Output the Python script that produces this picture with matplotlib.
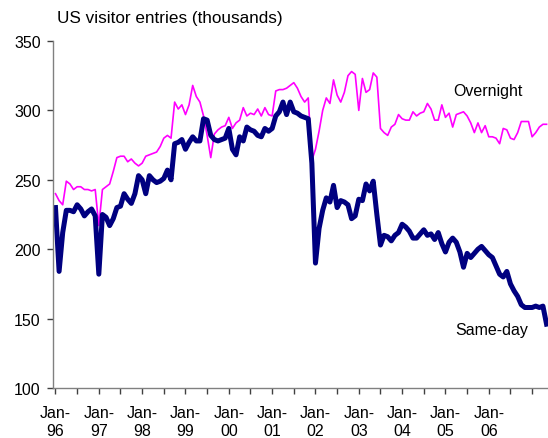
import matplotlib
matplotlib.use("Agg")
import matplotlib.pyplot as plt
import pandas as pd

# ----------------------------------------------------------------------------------------------------------------------
#  DATA  (monthly, Jan-96 onwards, thousands)
# ----------------------------------------------------------------------------------------------------------------------
same_day = [230, 184, 212, 228, 228, 227, 232, 229, 224, 227, 229, 224,
            182, 225, 223, 217, 222, 230, 231, 240, 236, 233, 240, 253,
            250, 240, 253, 250, 248, 249, 251, 257, 250, 276, 277, 279,
            272, 277, 281, 278, 278, 294, 293, 282, 279, 278, 279, 280,
            287, 272, 268, 281, 278, 288, 286, 285, 282, 281, 287, 285,
            287, 296, 299, 306, 297, 306, 299, 298, 296, 295, 294, 262,
            190, 215, 228, 237, 234, 246, 230, 235, 234, 232, 222, 224,
            236, 235, 247, 242, 249, 225, 203, 210, 209, 206, 210, 212,
            218, 216, 213, 208, 208, 211, 214, 210, 211, 207, 212, 204,
            198, 205, 208, 205, 198, 187, 197, 194, 197, 200, 202, 199,
            196, 194, 188, 182, 180, 184, 175, 170, 166, 160, 158, 158,
            158, 159, 158, 159, 146]

overnight = [240, 235, 232, 249, 247, 243, 245, 245, 243, 243, 242, 243,
             217, 243, 245, 247, 256, 266, 267, 267, 263, 265, 262, 260,
             262, 267, 268, 269, 270, 274, 280, 282, 280, 306, 301, 304,
             297, 304, 318, 310, 306, 296, 282, 266, 283, 286, 288, 289,
             295, 287, 291, 293, 302, 296, 298, 297, 301, 296, 302, 297,
             296, 314, 315, 315, 316, 318, 320, 316, 310, 306, 309, 264,
             272, 285, 300, 309, 305, 322, 311, 306, 313, 325, 328, 326,
             300, 323, 313, 315, 327, 324, 287, 284, 282, 288, 290, 297,
             294, 293, 293, 299, 296, 298, 299, 305, 301, 293, 293, 304,
             295, 298, 288, 297, 298, 299, 296, 291, 284, 291, 284, 289,
             281, 281, 280, 276, 287, 286, 280, 279, 284, 292, 292, 292,
             281, 284, 288, 290, 290]

months = pd.date_range("1996-01-01", periods=len(same_day), freq="MS")
y_ticks = [100, 150, 200, 250, 300, 350]

# ----------------------------------------------------------------------------------------------------------------------
#  PLOT
# ----------------------------------------------------------------------------------------------------------------------
plt.rcParams['font.family'] = ['Liberation Sans', 'DejaVu Sans']

fig = plt.figure(figsize=(5.48, 4.39), dpi=100)
ax = fig.add_axes([0.0973, 0.1139, 0.9027, 0.7904])

idx = list(range(len(months)))
ax.plot(idx, overnight, color='#FF00FF', linewidth=1.2, solid_joinstyle='round')
ax.plot(idx, same_day, color='#000080', linewidth=3.6, solid_joinstyle='round')

ax.set_ylim(100, 350)
ax.set_yticks(y_ticks)
ax.set_xlim(-0.6, 136.4)

# ticks every 6 months, labels on January only
tick_pos = [i for i in range(0, 137, 6)]
ax.set_xticks(tick_pos)
labels = []
for i in tick_pos:
    if i < len(months) and months[i].month == 1 and months[i].year <= 2006:
        labels.append("Jan-\n" + months[i].strftime("%y"))
    else:
        labels.append("")
ax.set_xticklabels(labels, linespacing=1.25)

for side in ['top', 'right']:
    ax.spines[side].set_visible(False)
for side in ['left', 'bottom']:
    ax.spines[side].set_color('#808080')
    ax.spines[side].set_linewidth(1.0)

ax.tick_params(axis='both', direction='out', length=4, width=1, color='#404040',
               labelsize=11.5, labelcolor='black')
ax.tick_params(axis='x', pad=8)
ax.tick_params(axis='y', pad=5)

fig.text(0.104, 0.958, 'US visitor entries (thousands)', fontsize=12.3, ha='left', va='center')
ax.text(119.8, 314, 'Overnight', fontsize=11.5, ha='center', va='center')
ax.text(120.9, 142.5, 'Same-day', fontsize=11.5, ha='center', va='center')

fig.savefig('out.png', dpi=100)
